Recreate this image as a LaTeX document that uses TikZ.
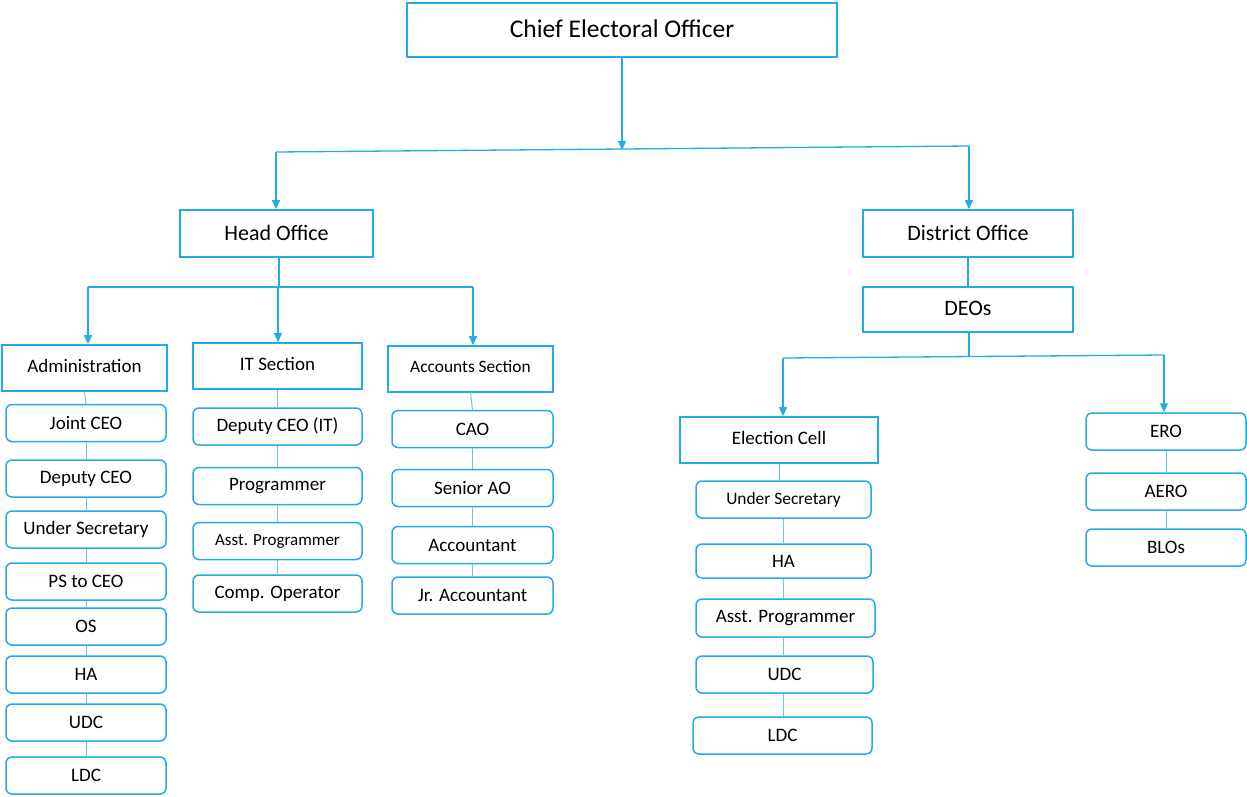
\documentclass[tikz,border=0pt]{standalone}
\usepackage{fontspec}
\setmainfont{Carlito}
\usetikzlibrary{arrows.meta}
\definecolor{sky}{RGB}{32,172,228}
\definecolor{skyl}{RGB}{110,195,235}
\tikzset{
  sqbox/.style={draw=sky, line width=1.8pt, fill=white, inner sep=0pt, align=center, text=black},
  rbox/.style={draw=sky, line width=1.5pt, rounded corners=6pt, fill=white, inner sep=0pt, align=center, text=black},
  conn/.style={draw=sky, line width=1.3pt},
  thin/.style={draw=skyl, line width=1pt},
  arr/.style={draw=sky, line width=1.3pt, -{Triangle[width=8pt,length=9pt]}},
}
\newcommand{\fs}[1]{\fontsize{#1}{#1}\selectfont}
\begin{document}
\begin{tikzpicture}[x=1pt,y=-1pt]
\useasboundingbox (0,0) rectangle (1247,796);
% top
\node[sqbox, minimum width=430, minimum height=54] (ceo) at (622,30) {\raisebox{3pt}{\fs{25.5}Chief Electoral Officer}};
\node[sqbox, minimum width=193, minimum height=47] (ho) at (276.5,233.5) {\raisebox{2pt}{\fs{22}Head Office}};
\node[sqbox, minimum width=210, minimum height=47] (do) at (968,233.5) {\raisebox{2pt}{\fs{22}District Office}};
\node[sqbox, minimum width=210, minimum height=45] (deo) at (968,309.5) {\raisebox{2pt}{\fs{22}DEOs}};
\coordinate (c1) at (622,150);
\coordinate (cl) at (276,152);
\coordinate (cr) at (969,146);
\draw[conn] (cl) -- (cr);
\draw[arr] (ceo.south) -- (c1);
\draw[arr] (cl) -- (cl |- ho.north);
\draw[arr] (cr) -- (cr |- do.north);
\draw[conn] (do.south) -- (deo.north);
% head office sections
\node[sqbox, minimum width=165, minimum height=46] (adm) at (84.5,368) {\raisebox{4pt}{\fs{19}Administration}};
\node[sqbox, minimum width=169, minimum height=46] (it) at (277.5,366) {\raisebox{4pt}{\fs{19}IT Section}};
\node[sqbox, minimum width=165, minimum height=46] (acc) at (470.5,369) {\raisebox{5pt}{\fs{17.4}Accounts Section}};
\coordinate (h0) at (279,287);
\coordinate (ha) at (88,287);
\coordinate (hi) at (278,287);
\coordinate (hc) at (473,287);
\draw[conn] (ho.south -| h0) -- (h0);
\draw[conn] (ha) -- (hc);
\draw[arr] (ha) -- (ha |- adm.north);
\draw[arr] (hi) -- (hi |- it.north);
\draw[arr] (hc) -- (hc |- acc.north);
% administration column
\foreach \n/\y/\t in {a1/423/Joint CEO, a2/478.5/Deputy CEO, a3/529.5/Under Secretary, a4/581.5/PS to CEO, a5/626.5/OS, a6/674.5/HA, a7/722.5/UDC, a8/775.5/LDC}
  \node[rbox, minimum width=160, minimum height=37] (\n) at (86,\y) {\fs{19}\t};
\draw[thin] (adm.south) -- (a1.north);
\foreach \p/\q in {a1/a2,a2/a3,a3/a4,a4/a5,a5/a6,a6/a7,a7/a8}
  \draw[thin] (\p.south) -- (\q.north);
% IT column
\node[rbox, minimum width=169, minimum height=37] (i1) at (277.5,426.5) {\fs{19}Deputy CEO (IT)};
\node[rbox, minimum width=169, minimum height=37] (i2) at (277.5,486) {\fs{19}Programmer};
\node[rbox, minimum width=169, minimum height=37] (i3) at (277.5,541) {\fs{17}Asst. Programmer};
\node[rbox, minimum width=169, minimum height=37] (i4) at (277.5,593.5) {\fs{19}Comp. Operator};
\draw[thin] (it.south) -- (i1.north);
\foreach \p/\q in {i1/i2,i2/i3,i3/i4}
  \draw[thin] (\p.south) -- (\q.north);
% accounts column
\foreach \n/\y/\t in {k1/429/CAO, k2/488/Senior AO, k3/545/Accountant, k4/595.5/Jr. Accountant}
  \node[rbox, minimum width=161, minimum height=37] (\n) at (472.5,\y) {\fs{19}\t};
\draw[thin] (acc.south) -- (k1.north);
\foreach \p/\q in {k1/k2,k2/k3,k3/k4}
  \draw[thin] (\p.south) -- (\q.north);
% district side
\node[sqbox, minimum width=198, minimum height=46] (ec) at (779,440) {\raisebox{4pt}{\fs{19}Election Cell}};
\node[rbox, minimum width=160, minimum height=37] (r1) at (1166,431.5) {\fs{19}ERO};
\node[rbox, minimum width=160, minimum height=37] (r2) at (1166,491.5) {\fs{19}AERO};
\node[rbox, minimum width=160, minimum height=37] (r3) at (1166,547.5) {\fs{19}BLOs};
\coordinate (d0) at (969,357);
\coordinate (dl) at (783,358);
\coordinate (dr) at (1164,355);
\draw[conn] (deo.south -| d0) -- (d0);
\draw[conn] (dl) -- (dr);
\draw[arr] (dl) -- (dl |- ec.north);
\draw[arr] (dr) -- (dr |- r1.north);
\draw[thin] (r1.south) -- (r2.north);
\draw[thin] (r2.south) -- (r3.north);
% election cell column
\node[rbox, minimum width=175, minimum height=37] (e1) at (783.5,499.5) {\fs{17.4}Under Secretary};
\node[rbox, minimum width=175, minimum height=34] (e2) at (783.5,561) {\fs{19}HA};
\node[rbox, minimum width=179, minimum height=38] (e3) at (785.5,618) {\fs{19}Asst. Programmer};
\node[rbox, minimum width=177, minimum height=37] (e4) at (784.5,674.5) {\fs{19}UDC};
\node[rbox, minimum width=179, minimum height=37] (e5) at (782.5,735.5) {\fs{19}LDC};
\coordinate (ex) at (783,0);
\draw[thin] (ec.south) -- (e1.north -| ec.south);
\foreach \p/\q in {e1/e2,e2/e3,e3/e4,e4/e5}
  \draw[thin] (\p.south -| ex) -- (\q.north -| ex);
\end{tikzpicture}
\end{document}
